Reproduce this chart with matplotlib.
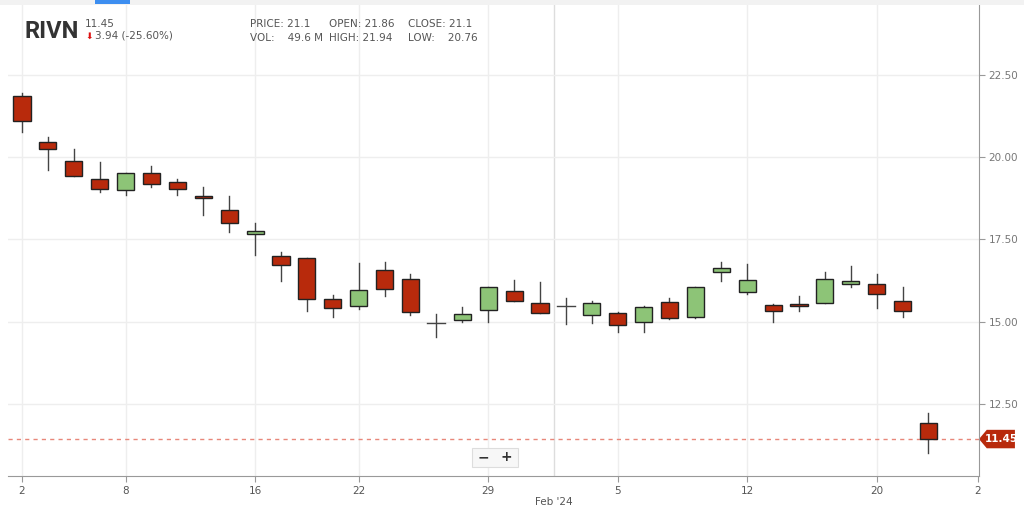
import matplotlib
matplotlib.use("Agg")
import matplotlib.pyplot as plt
from matplotlib.patches import Rectangle, Polygon

opens  = [21.86,20.47,19.88,19.32,18.99,19.51,19.24,18.83,18.39,17.67,16.99,16.93,15.70,15.48,16.58,16.30,14.96,15.07,15.37,
          15.95,15.57,15.48,15.20,15.26,14.99,15.60,15.14,16.52,15.92,15.51,15.55,15.57,16.14,16.15,15.65,11.95]
highs  = [21.94,20.62,20.24,19.85,19.52,19.73,19.33,19.08,18.82,17.99,17.11,16.95,15.82,16.79,16.81,16.45,15.24,15.45,16.07,
          16.27,16.21,15.72,15.62,15.30,15.48,15.74,16.06,16.81,16.76,15.55,15.79,16.51,16.70,16.45,16.07,12.23]
lows   = [20.76,19.61,19.42,18.95,18.84,19.10,18.84,18.24,17.74,17.03,16.23,15.34,15.14,15.38,15.80,15.22,14.55,15.01,15.01,
          15.62,15.26,14.94,14.98,14.71,14.71,15.08,15.12,16.25,15.84,15.01,15.34,15.56,16.05,15.42,15.14,11.04]
closes = [21.10,20.24,19.42,19.02,19.51,19.17,19.02,18.75,18.00,17.76,16.72,15.70,15.42,15.98,16.00,15.29,14.96,15.23,16.05,
          15.62,15.26,15.48,15.57,14.90,15.44,15.12,16.06,16.64,16.27,15.34,15.48,16.29,16.25,15.84,15.34,11.45]
tick_idx = [0, 4, 9, 13, 18, 23, 28, 33]
tick_lbl = ["2", "8", "16", "22", "29", "5", "12", "20"]
yticks = [12.5, 15.0, 17.5, 20.0, 22.5]
last_price = 11.45

RED = "#b82a0c"; GREEN = "#8dc477"
fig = plt.figure(figsize=(10.24, 5.13), dpi=100)
ax = fig.add_axes([8/1024, 1-476/513, (979-8)/1024, 476/513])
ax.set_xlim(-0.54, 36.95)
ax.set_ylim(10.33, 24.76)
for i, (o, h, l, c) in enumerate(zip(opens, highs, lows, closes)):
    ax.plot([i, i], [l, h], color="#444444", lw=1, zorder=2)
    if o == c:
        ax.plot([i-0.35, i+0.35], [o, o], color="#444444", lw=1, zorder=3)
        continue
    col = GREEN if c > o else RED
    ax.add_patch(Rectangle((i-0.33, min(o, c)), 0.66, abs(c-o), facecolor=col,
                           edgecolor="#222222", lw=1, zorder=3))
for t in tick_idx:
    ax.axvline(t, color="#eeeeee", lw=1, zorder=0)
ax.axvline(20.55, color="#dddddd", lw=1, zorder=0)
for y in yticks:
    ax.axhline(y, color="#eeeeee", lw=1, zorder=0)
ax.axhline(last_price, color="#e8877a", lw=1, ls=(0, (3, 3)), zorder=1)
ax.set_xticks(tick_idx + [36.9])
ax.set_xticklabels(tick_lbl + ["2"], color="#555555", fontsize=7.5)
ax.set_yticks(yticks)
ax.set_yticklabels([f"{v:.2f}" for v in yticks], color="#777777", fontsize=7.5)
ax.yaxis.tick_right()
ax.tick_params(axis="both", length=4, color="#999999", pad=3)
for s in ["top", "left"]:
    ax.spines[s].set_visible(False)
for s in ["right", "bottom"]:
    ax.spines[s].set_color("#999999")
ax.text(20.55, -0.045, "Feb '24", transform=ax.get_xaxis_transform(), ha="center",
        va="top", fontsize=7.5, color="#555555")
# price tag
tr = ax.get_yaxis_transform()
ax.add_patch(Polygon([[1.0, last_price], [1.008, last_price+0.28], [1.037, last_price+0.28],
                      [1.037, last_price-0.28], [1.008, last_price-0.28]], closed=True,
                     transform=tr, facecolor=RED, edgecolor="none", clip_on=False))
ax.text(1.023, last_price, "11.45", transform=tr, ha="center", va="center",
        color="white", fontsize=7.5, fontweight="bold", clip_on=False)
# header
fig.text(25/1024, 1-32/513, "RIVN", fontsize=17, fontweight="bold", color="#333333", va="center",
         family="Roboto")
fig.text(85/1024, 1-24/513, "11.45", fontsize=7.5, color="#555555", va="center")
fig.text(85/1024, 1-36/513, "\u2b07", fontsize=6.5, color="#dd1111", va="center")
fig.text(95/1024, 1-36/513, "3.94 (-25.60%)", fontsize=7.5, color="#555555", va="center")
for x, y, s in [(250, 24, "PRICE: 21.1"), (250, 38, "VOL:    49.6 M"), (329, 24, "OPEN: 21.86"),
                (329, 38, "HIGH: 21.94"), (408, 24, "CLOSE: 21.1"), (408, 38, "LOW:    20.76")]:
    fig.text(x/1024, 1-y/513, s, fontsize=7.5, color="#555555", va="center")
# top tab bar and zoom buttons
fig.patches.append(Rectangle((0, 1-5/513), 1, 5/513, transform=fig.transFigure, facecolor="#f2f2f2", edgecolor="none"))
fig.patches.append(Rectangle((95/1024, 1-4/513), 35/1024, 4/513, transform=fig.transFigure, facecolor="#3d8ef0", edgecolor="none"))
fig.patches.append(Rectangle((472/1024, 1-467/513), 46/1024, 19/513, transform=fig.transFigure,
                             facecolor="#f7f7f7", edgecolor="#dddddd", lw=0.8))
fig.text(483/1024, 1-457/513, "\u2212", fontsize=10, color="#333333", ha="center", va="center", fontweight="bold")
fig.text(506/1024, 1-457/513, "+", fontsize=10, color="#333333", ha="center", va="center", fontweight="bold")
fig.savefig("out.png", dpi=100)
